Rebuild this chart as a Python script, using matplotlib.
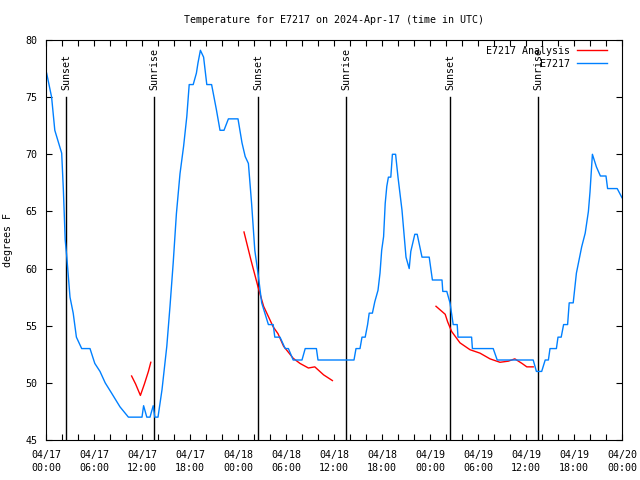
import matplotlib
matplotlib.use("Agg")
import matplotlib.pyplot as plt

# hours since 2024-04-17 00:00 UTC
obs_hours = [0.08, 0.7, 1.1, 1.96, 2.17, 2.4, 2.6, 3.0, 3.4, 3.8, 4.46, 5.5, 6.1, 6.75,
             7.4, 8.2, 9.25, 10.3, 12.0, 12.2, 12.6, 13.0, 13.4, 13.6, 14.0, 14.5, 15.1,
             15.5, 15.9, 16.3, 16.75, 17.2, 17.6, 17.9, 18.4, 18.8, 19.0, 19.3, 19.7,
             20.1, 20.7, 21.3, 21.75, 22.25, 22.8, 24.0, 24.5, 24.9, 25.3, 25.7, 26.1,
             26.5, 26.96, 27.8, 28.4, 28.6, 29.25, 29.9, 30.3, 30.9, 32.0, 32.4, 33.8,
             34.0, 38.5, 38.75, 39.25, 39.5, 39.9, 40.2, 40.4, 40.8, 41.1, 41.5, 41.75,
             41.96, 42.2, 42.4, 42.6, 42.8, 43.1, 43.3, 43.7, 44.0, 44.5, 44.75, 45.0,
             45.4, 45.6, 46.1, 46.4, 47.0, 47.9, 48.3, 49.5, 49.6, 50.1, 50.5, 50.9,
             51.4, 51.5, 53.2, 53.3, 55.9, 56.4, 60.9, 61.3, 61.96, 62.4, 62.8, 63.0,
             63.8, 64.0, 64.4, 64.7, 65.2, 65.4, 65.9, 66.3, 66.7, 66.96, 67.4, 67.8,
             68.0, 68.3, 68.8, 69.3, 70.0, 70.2, 71.4, 72.0]
obs_temps = [77.1, 75.0, 72.1, 70.1, 66.9, 62.5, 61.0, 57.5, 56.1, 54.0, 53.0, 53.0, 51.7, 51.0,
             50.0, 49.1, 47.9, 47.0, 47.0, 48.0, 47.0, 47.0, 48.0, 47.0, 47.0, 49.4, 53.2,
             56.7, 60.5, 64.8, 68.3, 70.7, 73.3, 76.1, 76.1, 77.1, 78.0, 79.1, 78.5,
             76.1, 76.1, 73.9, 72.1, 72.1, 73.1, 73.1, 71.0, 69.8, 69.2, 65.7, 61.6,
             59.6, 57.0, 55.1, 55.1, 54.0, 54.0, 53.0, 53.0, 52.0, 52.0, 53.0, 53.0,
             52.0, 52.0, 53.0, 53.0, 54.0, 54.0, 55.1, 56.1, 56.1, 57.1, 58.1, 59.6,
             61.6, 62.8, 65.7, 67.2, 68.0, 68.0, 70.0, 70.0, 68.0, 65.1, 63.1, 61.0,
             60.0, 61.5, 63.0, 63.0, 61.0, 61.0, 59.0, 59.0, 58.0, 58.0, 57.0, 55.1,
             55.1, 54.0, 54.0, 53.0, 53.0, 52.0, 52.0, 51.0, 51.0, 52.0, 52.0, 53.0,
             53.0, 54.0, 54.0, 55.1, 55.1, 57.0, 57.0, 59.6, 61.0, 61.9, 63.1, 65.0,
             66.7, 70.0, 68.9, 68.1, 68.1, 67.0, 67.0, 66.2]

ana1_hours = [10.7, 11.2, 11.8, 12.3, 12.8, 13.1]
ana1_temps = [50.6, 49.9, 48.9, 49.9, 51.0, 51.8]
ana2_hours = [24.75, 25.6, 26.5, 27.2, 28.4, 29.0, 29.7, 30.9, 31.75, 32.8, 33.6, 34.7, 35.8]
ana2_temps = [63.2, 60.8, 58.4, 56.7, 54.9, 54.3, 53.2, 52.15, 51.7, 51.3, 51.4, 50.7, 50.2]
ana3_hours = [48.75, 49.9, 50.2, 50.7, 51.75, 53.0, 54.25, 55.5, 56.75, 57.8, 58.6, 59.5, 60.1, 60.9]
ana3_temps = [56.7, 56.0, 55.35, 54.5, 53.5, 52.9, 52.6, 52.1, 51.8, 51.9, 52.1, 51.7, 51.4, 51.4]

sun_hours = [2.5, 13.5, 26.5, 37.5, 50.5, 61.5]
sun_labels = ["Sunset", "Sunrise", "Sunset", "Sunrise", "Sunset", "Sunrise"]

tick_hours = [0, 6, 12, 18, 24, 30, 36, 42, 48, 54, 60, 66, 72]
tick_labels = ["04/17\n00:00", "04/17\n06:00", "04/17\n12:00", "04/17\n18:00",
               "04/18\n00:00", "04/18\n06:00", "04/18\n12:00", "04/18\n18:00",
               "04/19\n00:00", "04/19\n06:00", "04/19\n12:00", "04/19\n18:00",
               "04/20\n00:00"]

plt.rcParams['font.family'] = ['DejaVu Sans Mono']
plt.rcParams['font.size'] = 7.2

fig = plt.figure(figsize=(6.4, 4.8), dpi=100)
ax = fig.add_axes([46/640, 40/480, 576/640, 400/480])

# sunrise / sunset markers
for h, lab in zip(sun_hours, sun_labels):
    ax.plot([h, h], [45, 75], color="black", linewidth=1.0)
    ax.text(h + 0.1, 75.6, lab, rotation=90, ha='center', va='bottom')

ax.plot(ana1_hours, ana1_temps, color="#ff0000", linewidth=1.0, label="E7217 Analysis")
ax.plot(ana2_hours, ana2_temps, color="#ff0000", linewidth=1.0)
ax.plot(ana3_hours, ana3_temps, color="#ff0000", linewidth=1.0)
ax.plot(obs_hours, obs_temps, color="#0080ff", linewidth=1.0, label="E7217")

ax.set_xlim(0, 72)
ax.set_ylim(45, 80)
ax.set_xticks(tick_hours)
ax.set_xticklabels(tick_labels, linespacing=1.45)
ax.set_xticks(range(0, 73, 2), minor=True)
ax.set_yticks(range(45, 81, 5))
ax.tick_params(which='both', direction='in', top=True, right=True, length=4, width=0.8)
ax.tick_params(axis='x', pad=7)
ax.tick_params(axis='y', pad=6)
ax.set_ylabel("degrees F", labelpad=9)
ax.set_title("Temperature for E7217 on 2024-Apr-17 (time in UTC)", fontsize=7.2, pad=12)

ax.legend(loc='upper right', markerfirst=False, frameon=False, handlelength=3.0,
          handletextpad=0.7, labelspacing=0.3, borderaxespad=0.2,
          bbox_to_anchor=(0.985, 1.0))

fig.savefig("out.png", dpi=100)
